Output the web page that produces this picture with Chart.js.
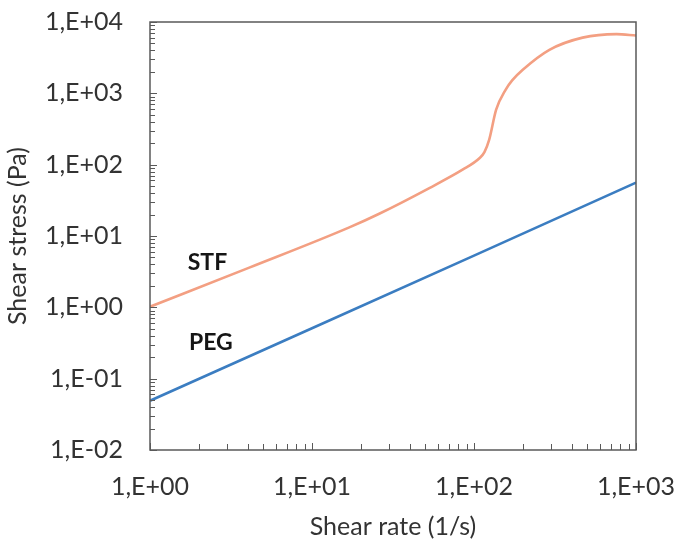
<!DOCTYPE html>
<html>
<head>
<meta charset="utf-8">
<script src="https://cdn.jsdelivr.net/npm/chart.js@4.4.1/dist/chart.umd.min.js"></script>
<style>
  html, body { margin: 0; padding: 0; background: #fff; }
  #wrap { width: 678px; height: 545px; position: relative; }
</style>
</head>
<body>
<div id="wrap"><canvas id="rheo"></canvas></div>
<script>
// STF (shear thickening fluid) curve
const stfRate = [1, 4.1, 17, 26, 53, 85, 108, 116, 124, 137, 157, 172, 200, 292, 468, 757, 1000];
const stfStress = [1.02, 3.6, 13.2, 20.5, 47, 85, 123, 150, 222, 590, 1130, 1520, 2140, 4070, 6040, 6770, 6460];

// PEG curve
const pegRate = [1, 10, 100, 1000];
const pegStress = [0.049, 0.51, 5.3, 56];

// axis ticks
const xDecades = [1, 10, 100, 1000];
const xTickLabels = ["1,E+00", "1,E+01", "1,E+02", "1,E+03"];
const yDecades = [0.01, 0.1, 1, 10, 100, 1000, 10000];
const yTickLabels = ["1,E-02", "1,E-01", "1,E+00", "1,E+01", "1,E+02", "1,E+03", "1,E+04"];

// series names written in the plot
const seriesNames = ["STF", "PEG"];
const seriesNameAt = [[1.71, 4.3], [1.74, 0.32]];

const textColor = "#333333";
const frameColor = "#595959";

function toPoints(xs, ys) {
  return xs.map((v, i) => ({ x: v, y: ys[i] }));
}

// 边框、向内的刻度和曲线名称
const frameAndTicks = {
  id: "frameAndTicks",
  afterDraw(chart) {
    const { ctx, chartArea: a, scales } = chart;
    const sx = scales.x;
    const sy = scales.y;
    ctx.save();
    ctx.strokeStyle = frameColor;
    ctx.lineWidth = 1;
    ctx.beginPath();
    xDecades.forEach((d) => {
      for (let m = 1; m <= 9; m++) {
        const v = d * m;
        if (v > xDecades[xDecades.length - 1] * 1.0001) break;
        const px = Math.round(sx.getPixelForValue(v)) + 0.5;
        const len = m === 1 ? 7 : 6;
        ctx.moveTo(px, a.bottom);
        ctx.lineTo(px, a.bottom - len);
      }
    });
    yDecades.forEach((d) => {
      for (let m = 1; m <= 9; m++) {
        const v = d * m;
        if (v > yDecades[yDecades.length - 1] * 1.0001) break;
        const py = Math.round(sy.getPixelForValue(v)) + 0.5;
        const len = m === 1 ? 7 : 5;
        ctx.moveTo(a.left, py);
        ctx.lineTo(a.left + len, py);
      }
    });
    ctx.stroke();

    ctx.lineWidth = 1.5;
    ctx.strokeRect(a.left, a.top, a.right - a.left, a.bottom - a.top);

    ctx.font = "bold 23px Lato";
    ctx.fillStyle = "#151515";
    ctx.textAlign = "left";
    ctx.textBaseline = "middle";
    seriesNames.forEach((name, i) => {
      const [vx, vy] = seriesNameAt[i];
      ctx.fillText(name, sx.getPixelForValue(vx), sy.getPixelForValue(vy));
    });
    ctx.restore();
  },
};

const ctx = document.getElementById("rheo").getContext("2d");
new Chart(ctx, {
  type: "line",
  data: {
    datasets: [
      {
        label: "STF",
        data: toPoints(stfRate, stfStress),
        borderColor: "#F39F82",
        borderWidth: 2.6,
        pointRadius: 0,
        cubicInterpolationMode: "monotone",
        fill: false,
      },
      {
        label: "PEG",
        data: toPoints(pegRate, pegStress),
        borderColor: "#3B7DC1",
        borderWidth: 2.6,
        pointRadius: 0,
        tension: 0,
        fill: false,
      },
    ],
  },
  options: {
    responsive: true,
    maintainAspectRatio: false,
    animation: false,
    layout: {
      padding: { top: 22, right: 42, bottom: 0, left: 0 },
    },
    plugins: {
      legend: { display: false },
      tooltip: { enabled: false },
    },
    scales: {
      x: {
        type: "logarithmic",
        min: 1,
        max: 1000,
        afterBuildTicks: (scale) => {
          scale.ticks = xDecades.map((v) => ({ value: v }));
        },
        afterFit: (scale) => {
          scale.height = 95;
          scale.paddingLeft = 0;
          scale.paddingRight = 0;
        },
        grid: { display: false, drawTicks: false },
        border: { display: false },
        ticks: {
          autoSkip: false,
          maxRotation: 0,
          padding: 22,
          color: textColor,
          font: { family: "Lato", size: 25 },
          callback: (v) => {
            const i = xDecades.findIndex((d) => Math.abs(d - v) / d < 1e-6);
            return i >= 0 ? xTickLabels[i] : "";
          },
        },
        title: {
          display: true,
          text: "Shear rate (1/s)",
          color: textColor,
          font: { family: "Lato", size: 25 },
          padding: { top: 0, bottom: 3 },
        },
      },
      y: {
        type: "logarithmic",
        min: 0.01,
        max: 10000,
        afterBuildTicks: (scale) => {
          scale.ticks = yDecades.map((v) => ({ value: v }));
        },
        afterFit: (scale) => {
          scale.width = 150;
          scale.paddingTop = 0;
          scale.paddingBottom = 0;
        },
        grid: { display: false, drawTicks: false },
        border: { display: false },
        ticks: {
          autoSkip: false,
          padding: 27,
          color: textColor,
          font: { family: "Lato", size: 25 },
          callback: (v) => {
            const i = yDecades.findIndex((d) => Math.abs(d - v) / d < 1e-6);
            return i >= 0 ? yTickLabels[i] : "";
          },
        },
        title: {
          display: true,
          text: "Shear stress (Pa)",
          color: textColor,
          font: { family: "Lato", size: 25 },
          padding: { top: 3, bottom: 0 },
        },
      },
    },
  },
  plugins: [frameAndTicks],
});
</script>
</body>
</html>
